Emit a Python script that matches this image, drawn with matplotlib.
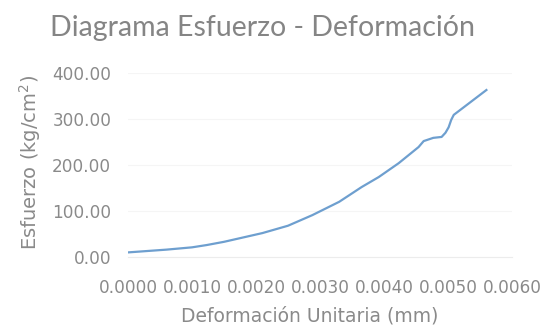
import matplotlib
matplotlib.use("Agg")
import matplotlib.pyplot as plt
from matplotlib.ticker import FormatStrFormatter, MultipleLocator

# Data
strain = [0.0000, 0.0006, 0.0010, 0.00123, 0.0015, 0.0021, 0.0025, 0.00288,
          0.0033, 0.00365, 0.00392, 0.00423, 0.00454, 0.00462, 0.00477,
          0.00490, 0.00496, 0.00501, 0.00505, 0.00509, 0.00560]
stress = [10, 16, 21, 26, 33, 52, 68, 91,
          120, 152, 174, 204, 239, 252, 259,
          261, 270, 282, 298, 309, 363]

title = "Diagrama Esfuerzo - Deformación"
xlabel = "Deformación Unitaria (mm)"
ylabel = "Esfuerzo (kg/cm$^2$)"

W, H = 544, 328
DPI = 100
fig = plt.figure(figsize=(W / DPI, H / DPI), dpi=DPI)
ax = fig.add_axes([128 / W, 1 - 257 / H, (512 - 128) / W, (257 - 73) / H])

TXT = "#8a8a8a"
ax.plot(strain, stress, color="#6E9FCF", lw=1.6, solid_joinstyle="round")

ax.set_xlim(0, 0.006)
ax.set_ylim(0, 400)
ax.xaxis.set_major_locator(MultipleLocator(0.001))
ax.yaxis.set_major_locator(MultipleLocator(100))
ax.xaxis.set_major_formatter(FormatStrFormatter("%.4f"))
ax.yaxis.set_major_formatter(FormatStrFormatter("%.2f"))

for s in ["top", "right", "left"]:
    ax.spines[s].set_visible(False)
ax.spines["bottom"].set_color("#ececec")
ax.spines["bottom"].set_linewidth(0.8)
ax.grid(axis="y", color="#f5f5f5", lw=0.8)
ax.set_axisbelow(True)
ax.tick_params(length=0, colors=TXT, labelsize=12.2)
ax.tick_params(axis="y", pad=12)
ax.tick_params(axis="x", pad=16)
for lab in ax.get_xticklabels() + ax.get_yticklabels():
    lab.set_family("DejaVu Sans")
    lab.set_color(TXT)

fig.text(263 / W, 1 - 28 / H, title, ha="center", va="center",
         fontsize=20.5, color="#858585", family="Lato")
fig.text(310 / W, 1 - 316 / H, xlabel, ha="center", va="center",
         fontsize=13.5, color="#8a8a8a", family="DejaVu Sans")
fig.text(30 / W, 1 - 162 / H, ylabel, ha="center", va="center",
         rotation=90, fontsize=14, color="#8a8a8a", family="DejaVu Sans")

fig.savefig("out.png", dpi=DPI)
